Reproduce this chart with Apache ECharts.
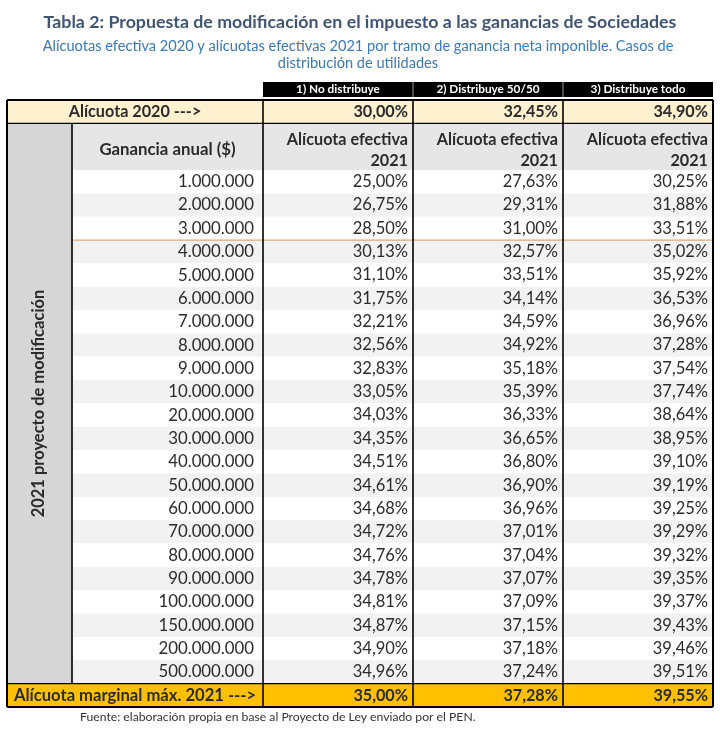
<!DOCTYPE html>
<html><head><meta charset="utf-8">
<script src="https://cdn.jsdelivr.net/npm/echarts@6/dist/echarts.min.js"></script>
<style>html,body{margin:0;padding:0;background:#fff}#chart{width:720px;height:729px}</style>
</head><body><div id="chart"></div>
<script>
// ---------- DATA ----------
const titleText = 'Tabla 2: Propuesta de modificación en el impuesto a las ganancias de Sociedades';
const subtitleLines = ['Alícuotas efectiva 2020 y alícuotas efectivas 2021 por tramo de ganancia neta imponible. Casos de', 'distribución de utilidades'];
const sourceText = 'Fuente: elaboración propia en base al Proyecto de Ley enviado por el PEN.';
const scenarios = ['1) No distribuye', '2) Distribuye 50/50', '3) Distribuye todo'];
const bandLabel = '2021 proyecto de modificación';
const gainHeader = 'Ganancia anual ($)';
const rateHeader = 'Alícuota efectiva\n2021';
const row2020Label = 'Alícuota 2020 --->';
const marginalLabel = 'Alícuota marginal máx. 2021 --->';
const annualGain = [1000000, 2000000, 3000000, 4000000, 5000000, 6000000, 7000000, 8000000, 9000000, 10000000,
  20000000, 30000000, 40000000, 50000000, 60000000, 70000000, 80000000, 90000000, 100000000, 150000000, 200000000, 500000000];
const noDistribuye = [25.00, 26.75, 28.50, 30.13, 31.10, 31.75, 32.21, 32.56, 32.83, 33.05,
  34.03, 34.35, 34.51, 34.61, 34.68, 34.72, 34.76, 34.78, 34.81, 34.87, 34.90, 34.96];
const distribuye5050 = [27.63, 29.31, 31.00, 32.57, 33.51, 34.14, 34.59, 34.92, 35.18, 35.39,
  36.33, 36.65, 36.80, 36.90, 36.96, 37.01, 37.04, 37.07, 37.09, 37.15, 37.18, 37.24];
const distribuyeTodo = [30.25, 31.88, 33.51, 35.02, 35.92, 36.53, 36.96, 37.28, 37.54, 37.74,
  38.64, 38.95, 39.10, 39.19, 39.25, 39.29, 39.32, 39.35, 39.37, 39.43, 39.46, 39.51];
const rate2020 = [30.00, 32.45, 34.90];
const marginal2021 = [35.00, 37.28, 39.55];
const tramoBreakAfter = 2; // brown separator after the 3.000.000 row

// ---------- STYLE / LAYOUT ----------
const FONT = 'Lato';
const INK = '#2b2b2b';
const C = { yellowL: '#FDF1CF', orange: '#FFC000', band: '#D6D6D6', head: '#E6E6E6', odd: '#F2F2F2', even: '#FFFFFF', brown: '#D9A87E' };
const LAY = { tableLeft: 7, bandW: 65, gainW: 191, ratesW: 450, top: 76.65, height: 630.35 };
const FS = { data: 16.5, gain: 16.8, bold: 16.2, band: 16.5, scen: 11.8 };

const fmtGain = n => String(n).replace(/\B(?=(\d{3})+(?!\d))/g, '.');
const fmtPct = v => v.toFixed(2).replace('.', ',') + '%';

const nRows = annualGain.length;
const ROW_TOP = 0, HEAD0 = 1, DATA0 = 3, MARG = DATA0 + nRows, YMAX = MARG + 1;
const scenarioValues = [noDistribuye, distribuye5050, distribuyeTodo];

// rate cells
const rateCells = [];
scenarios.forEach((s, j) => {
  rateCells.push({ col: j, r0: -1, r1: 0, kind: 'scen', text: s });
  rateCells.push({ col: j, r0: ROW_TOP, r1: HEAD0, kind: 'y2020', text: fmtPct(rate2020[j]) });
  rateCells.push({ col: j, r0: HEAD0, r1: DATA0, kind: 'head', text: rateHeader });
  scenarioValues[j].forEach((v, k) => rateCells.push({ col: j, r0: DATA0 + k, r1: DATA0 + k + 1, kind: k % 2 ? 'odd' : 'even', k, text: fmtPct(v) }));
  rateCells.push({ col: j, r0: MARG, r1: YMAX, kind: 'marg', text: fmtPct(marginal2021[j]) });
});
// gain cells
const gainCells = [];
gainCells.push({ col: 0, r0: ROW_TOP, r1: HEAD0, kind: 'y2020', text: row2020Label });
gainCells.push({ col: 0, r0: HEAD0, r1: DATA0, kind: 'head', text: gainHeader });
annualGain.forEach((g, k) => gainCells.push({ col: 0, r0: DATA0 + k, r1: DATA0 + k + 1, kind: k % 2 ? 'odd' : 'even', k, text: fmtGain(g) }));
gainCells.push({ col: 0, r0: MARG, r1: YMAX, kind: 'marg', text: marginalLabel });
// band cell
const bandCells = [{ col: 0, r0: HEAD0, r1: MARG, kind: 'band', text: bandLabel }];

function box(api, c) {
  const p0 = api.coord([c.col, c.r0]);
  const p1 = api.coord([c.col, c.r1]);
  const w = api.size([1, 0])[0];
  return { x: p0[0] - w / 2, y: p0[1], w: w, h: p1[1] - p0[1] };
}
function fillOf(kind) {
  return { y2020: C.yellowL, head: C.head, odd: C.odd, even: C.even, marg: C.orange, band: C.band, scen: '#000' }[kind];
}
function textEl(x, y, text, o) {
  return { type: 'text', x: x, y: y, z2: 5, style: Object.assign({ text: text, fill: INK, fontFamily: FONT, fontSize: FS.data, align: 'right', verticalAlign: 'middle' }, o || {}) };
}
function line(x1, y1, x2, y2, stroke, lw) {
  return { type: 'line', z2: 10, shape: { x1, y1, x2, y2 }, style: { stroke: stroke, lineWidth: lw } };
}

function renderRate(params, api) {
  const c = rateCells[params.dataIndex];
  const b = box(api, c);
  const ch = [];
  if (c.kind === 'scen') {
    ch.push({ type: 'rect', shape: { x: b.x, y: b.y + b.h - 18, width: b.w, height: 15 }, style: { fill: '#000' } });
    if (c.col > 0) ch.push(line(b.x, b.y + b.h - 18, b.x, b.y + b.h - 3, '#9a9a9a', 1));
    ch.push(textEl(b.x + b.w / 2, b.y + b.h - 10.5, c.text, { fill: '#fff', fontSize: FS.scen, fontWeight: 'bold', align: 'center' }));
    return { type: 'group', children: ch };
  }
  ch.push({ type: 'rect', shape: { x: b.x, y: b.y, width: b.w, height: b.h }, style: { fill: fillOf(c.kind) } });
  const bold = (c.kind === 'y2020' || c.kind === 'head' || c.kind === 'marg');
  ch.push(textEl(b.x + b.w - 5, b.y + b.h / 2 + (c.kind === 'head' ? 4 : 0), c.text,
    { fontWeight: bold ? 'bold' : 'normal', fontSize: bold ? FS.bold : FS.data, lineHeight: 21 }));
  if (c.kind !== 'head' && c.k === tramoBreakAfter) ch.push(line(b.x, b.y + b.h, b.x + b.w, b.y + b.h, C.brown, 1.2));
  return { type: 'group', children: ch };
}
function renderGain(params, api) {
  const c = gainCells[params.dataIndex];
  const b = box(api, c);
  const ch = [];
  if (c.kind === 'y2020' || c.kind === 'marg') {
    const x0 = b.x - LAY.bandW;
    ch.push({ type: 'rect', shape: { x: x0, y: b.y, width: b.w + LAY.bandW, height: b.h }, style: { fill: fillOf(c.kind) } });
    ch.push(textEl(x0 + (b.w + LAY.bandW) / 2, b.y + b.h / 2, c.text, { fontWeight: 'bold', fontSize: c.kind === 'marg' ? 16.6 : FS.bold, align: 'center' }));
    return { type: 'group', children: ch };
  }
  ch.push({ type: 'rect', shape: { x: b.x, y: b.y, width: b.w, height: b.h }, style: { fill: fillOf(c.kind) } });
  if (c.kind === 'head') {
    ch.push(textEl(b.x + b.w / 2, b.y + b.h / 2 + 3, c.text, { fontWeight: 'bold', fontSize: 16.8, align: 'center' }));
  } else {
    ch.push(textEl(b.x + b.w - 9, b.y + b.h / 2, c.text, { fontSize: FS.gain }));
    if (c.k === tramoBreakAfter) ch.push(line(b.x, b.y + b.h, b.x + b.w, b.y + b.h, C.brown, 1.2));
  }
  return { type: 'group', children: ch };
}
function renderBand(params, api) {
  const c = bandCells[params.dataIndex];
  const b = box(api, c);
  return { type: 'group', children: [
    { type: 'rect', shape: { x: b.x, y: b.y, width: b.w, height: b.h }, style: { fill: C.band } },
    { type: 'text', x: b.x + b.w / 2 - 1, y: b.y + b.h / 2, rotation: Math.PI / 2, z2: 5,
      style: { text: c.text, fill: INK, fontFamily: FONT, fontSize: FS.band, fontWeight: 'bold', align: 'center', verticalAlign: 'middle' } }
  ] };
}
// frames (borders)
function renderRateFrame(params, api) {
  const j = params.dataIndex;
  const t = box(api, { col: j, r0: ROW_TOP, r1: YMAX });
  const yH = api.coord([j, HEAD0])[1], yM = api.coord([j, MARG])[1];
  const ch = [
    line(t.x, t.y, t.x, t.y + t.h, '#000', 1.6),
    line(t.x, t.y, t.x + t.w, t.y, '#000', 2),
    line(t.x, t.y + t.h, t.x + t.w, t.y + t.h, '#000', 2),
    line(t.x, yH, t.x + t.w, yH, '#000', 1.4),
    line(t.x, yM, t.x + t.w, yM, '#000', 1.4)
  ];
  if (j === scenarios.length - 1) ch.push(line(t.x + t.w, t.y, t.x + t.w, t.y + t.h, '#000', 2));
  return { type: 'group', children: ch };
}
function renderGainFrame(params, api) {
  const t = box(api, { col: 0, r0: ROW_TOP, r1: YMAX });
  const yH = api.coord([0, HEAD0])[1], yM = api.coord([0, MARG])[1];
  const x0 = t.x - LAY.bandW;
  return { type: 'group', children: [
    line(x0, t.y, t.x + t.w, t.y, '#000', 2),
    line(x0, t.y + t.h, t.x + t.w, t.y + t.h, '#000', 2),
    line(x0, yH, t.x + t.w, yH, '#000', 1.4),
    line(x0, yM, t.x + t.w, yM, '#000', 1.4),
    line(x0, t.y, x0, t.y + t.h, '#000', 2),
    line(t.x, yH, t.x, yM, '#000', 1.6)
  ] };
}

const yAx = i => ({ type: 'value', gridIndex: i, min: -1, max: YMAX, inverse: true, show: false });
const xAx = (i, data) => ({ type: 'category', gridIndex: i, data: data, show: false });
const gridAt = (left, width) => ({ left: left, width: width, top: LAY.top, height: LAY.height, containLabel: false });

const chart = echarts.init(document.getElementById('chart'), null, { renderer: 'canvas' });
chart.setOption({
  backgroundColor: '#fff',
  animation: false,
  grid: [
    gridAt(LAY.tableLeft, LAY.bandW),
    gridAt(LAY.tableLeft + LAY.bandW, LAY.gainW),
    gridAt(LAY.tableLeft + LAY.bandW + LAY.gainW, LAY.ratesW)
  ],
  xAxis: [xAx(0, ['band']), xAx(1, [gainHeader]), xAx(2, scenarios)],
  yAxis: [yAx(0), yAx(1), yAx(2)],
  graphic: [
    { type: 'text', x: 360, y: 22, style: { text: titleText, align: 'center', verticalAlign: 'middle', fontFamily: FONT, fontSize: 17.8, fontWeight: 'bold', fill: '#3F5573' } },
    { type: 'text', x: 358, y: 46, style: { text: subtitleLines[0], align: 'center', verticalAlign: 'middle', fontFamily: FONT, fontSize: 14.6, fill: '#3A78B6' } },
    { type: 'text', x: 358, y: 63, style: { text: subtitleLines[1], align: 'center', verticalAlign: 'middle', fontFamily: FONT, fontSize: 14.6, fill: '#3A78B6' } },
    { type: 'text', x: 80, y: 717, style: { text: sourceText, align: 'left', verticalAlign: 'middle', fontFamily: FONT, fontSize: 12.2, fill: '#333' } }
  ],
  series: [
    { type: 'custom', xAxisIndex: 0, yAxisIndex: 0, renderItem: renderBand, data: bandCells.map(c => [c.col, c.r0, c.r1]), encode: { x: 0, y: [1, 2] }, z: 1 },
    { type: 'custom', xAxisIndex: 1, yAxisIndex: 1, renderItem: renderGain, data: gainCells.map(c => [c.col, c.r0, c.r1]), encode: { x: 0, y: [1, 2] }, z: 2 },
    { type: 'custom', xAxisIndex: 2, yAxisIndex: 2, renderItem: renderRate, data: rateCells.map(c => [c.col, c.r0, c.r1]), encode: { x: 0, y: [1, 2] }, z: 2 },
    { type: 'custom', xAxisIndex: 1, yAxisIndex: 1, renderItem: renderGainFrame, data: [[0, ROW_TOP, YMAX]], encode: { x: 0, y: [1, 2] }, z: 5 },
    { type: 'custom', xAxisIndex: 2, yAxisIndex: 2, renderItem: renderRateFrame, data: scenarios.map((s, j) => [j, ROW_TOP, YMAX]), encode: { x: 0, y: [1, 2] }, z: 5 }
  ]
});
</script></body></html>
